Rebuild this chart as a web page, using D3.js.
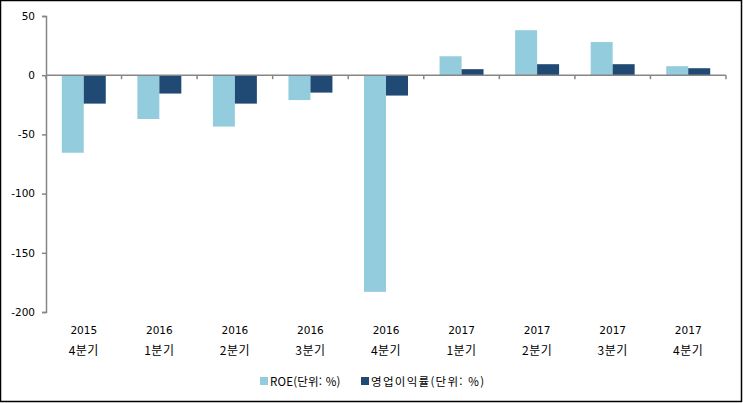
<!DOCTYPE html>
<html lang="ko">
<head>
  <meta charset="UTF-8">
  <title>ROE / 영업이익률</title>
  <script src="https://d3js.org/d3.v7.min.js"></script>
  <style>
    html, body { margin: 0; padding: 0; background: #fff; overflow: hidden; }
    svg { display: block; }
    text { font-family: "Noto Sans CJK KR", "DejaVu Sans", sans-serif; fill: #000; }
    text.num { font-family: "DejaVu Sans", sans-serif; }
  </style>
</head>
<body>
<svg></svg>
<script>
const years = ["2015", "2016", "2016", "2016", "2016", "2017", "2017", "2017", "2017"];
const quarters = ["4분기", "1분기", "2분기", "3분기", "4분기", "1분기", "2분기", "3분기", "4분기"];
const roe = [-65.5, -37, -43.4, -21, -183, 16, 38, 28, 7.6];
const opMargin = [-24, -15.5, -24, -14.7, -17.2, 5.1, 9.3, 9.3, 5.9];
const seriesNames = ["ROE(단위: %)", "영업이익률(단위: %)"];
const colors = ["#93cddd", "#204a74"];
const yTicks = [50, 0, -50, -100, -150, -200];

const width = 743, height = 403;
const svg = d3.select("svg").attr("width", width).attr("height", height);

svg.append("rect")
  .attr("x", 0.5).attr("y", 0.5)
  .attr("width", width - 2).attr("height", height - 2)
  .attr("fill", "#fff").attr("stroke", "#000").attr("stroke-width", 1.5);

const plotLeft = 46, plotRight = 726, plotTop = 16, plotBottom = 312;
const idx = d3.range(years.length);

const x0 = d3.scaleBand().domain(idx).range([plotLeft, plotRight])
  .paddingInner(0.418).paddingOuter(0.209);
const x1 = d3.scaleBand().domain([0, 1]).range([0, x0.bandwidth()]);
const y = d3.scaleLinear().domain([-200, 50]).range([plotBottom, plotTop]);

// bars
const series = [roe, opMargin];
series.forEach((vals, s) => {
  svg.append("g").selectAll("rect")
    .data(vals)
    .join("rect")
    .attr("x", (d, i) => x0(i) + x1(s))
    .attr("width", x1.bandwidth())
    .attr("y", d => y(Math.max(0, d)))
    .attr("height", d => Math.abs(y(d) - y(0)))
    .attr("fill", colors[s]);
});

// y axis (hyphen minus, like the original)
const yAxis = svg.append("g")
  .attr("transform", `translate(${plotLeft},0)`)
  .call(d3.axisLeft(y).tickValues(yTicks).tickSize(4).tickPadding(7).tickFormat(d => String(d)));
yAxis.select(".domain").attr("stroke", "#868686").attr("stroke-width", 1.5);
yAxis.selectAll(".tick line").attr("stroke", "#868686").attr("stroke-width", 1.5);
yAxis.selectAll(".tick text").attr("class", "num").attr("fill", "#000").attr("font-size", 10.5);

// x axis at zero
const xg = svg.append("g");
xg.append("line")
  .attr("x1", plotLeft).attr("x2", plotRight)
  .attr("y1", y(0)).attr("y2", y(0))
  .attr("stroke", "#868686").attr("stroke-width", 1.5);
const step = x0.step();
xg.selectAll("line.tk")
  .data(d3.range(years.length + 1))
  .join("line")
  .attr("class", "tk")
  .attr("x1", d => plotLeft + d * step).attr("x2", d => plotLeft + d * step)
  .attr("y1", y(0)).attr("y2", y(0) + 4)
  .attr("stroke", "#868686").attr("stroke-width", 1.5);

// category labels
const catX = i => x0(i) + x0.bandwidth() / 2;
svg.append("g").selectAll("text")
  .data(years)
  .join("text")
  .attr("class", "num")
  .attr("x", (d, i) => catX(i))
  .attr("y", 334)
  .attr("text-anchor", "middle")
  .attr("font-size", 10.5)
  .text(d => d);
svg.append("g").selectAll("text")
  .data(quarters)
  .join("text")
  .attr("x", (d, i) => catX(i))
  .attr("y", 355)
  .attr("text-anchor", "middle")
  .attr("font-size", 12)
  .attr("letter-spacing", 0.5)
  .text(d => d);

// legend
const legendX = [260, 361];
const legendSpacing = [0.2, 1.3];
const legend = svg.append("g").selectAll("g")
  .data(seriesNames)
  .join("g")
  .attr("transform", (d, i) => `translate(${legendX[i]},377)`);
legend.append("rect")
  .attr("width", 8).attr("height", 8)
  .attr("fill", (d, i) => colors[i]);
legend.append("text")
  .attr("x", 10).attr("y", 8.5)
  .attr("font-size", 11.5)
  .attr("letter-spacing", (d, i) => legendSpacing[i])
  .text(d => d);
</script>
</body>
</html>
